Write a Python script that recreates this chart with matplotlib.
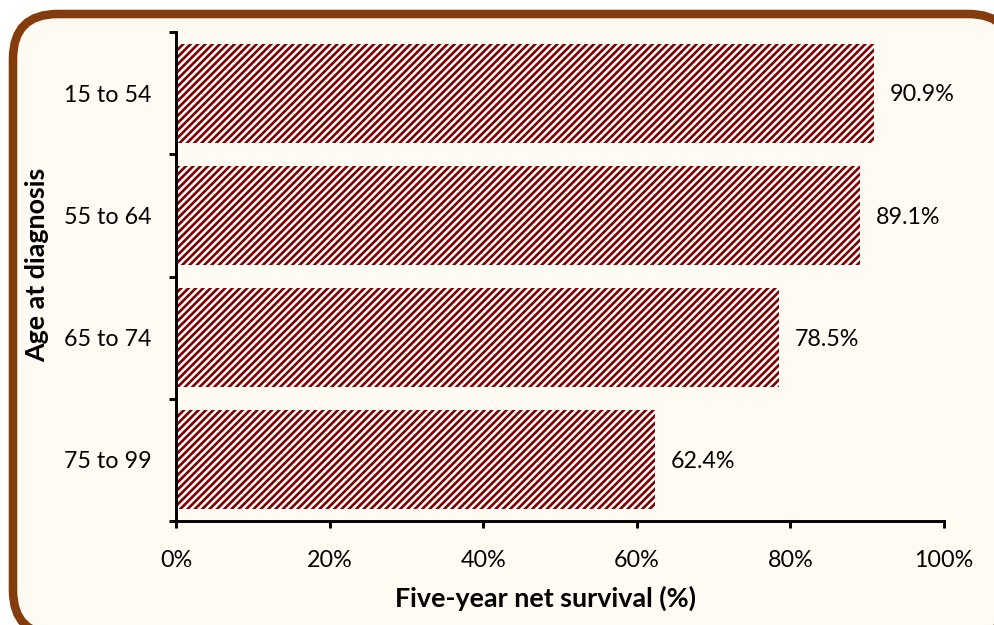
import matplotlib
matplotlib.use('Agg')
import matplotlib.pyplot as plt
from matplotlib.patches import FancyBboxPatch
from matplotlib.ticker import FixedLocator, PercentFormatter

ages = ["15 to 54", "55 to 64", "65 to 74", "75 to 99"]
survival = [90.9, 89.1, 78.5, 62.4]
x_ticks = [0, 20, 40, 60, 80, 100]

W, H, DPI = 994, 625, 88
plt.rcParams['font.family'] = ['Lato', 'DejaVu Sans']
plt.rcParams['hatch.linewidth'] = 2.2

bg = "#FFFBF2"
brown = "#843C0C"
dark_red = "#7F0000"
fs = 19
fs_title = 22

fig = plt.figure(figsize=(W / DPI, H / DPI), dpi=DPI)
fig.patch.set_facecolor("white")

# rounded frame round the whole chart (runs off the right/bottom edge)
frame = FancyBboxPatch((13 / W, -10 / H), (W + 6) / W, (H - 4) / H,
                       boxstyle="round,pad=0,rounding_size=0.045",
                       transform=fig.transFigure, facecolor=bg,
                       edgecolor=brown, linewidth=7, zorder=-5,
                       mutation_aspect=W / H)
fig.patches.append(frame)

ax = fig.add_axes([176 / W, 1 - 521 / H, (944 - 176) / W, (521 - 32) / H])
ax.set_facecolor("none")
ax.set_zorder(2)

ypos = list(range(len(ages)))
ax.barh(ypos, survival, height=0.81, color="white", edgecolor=dark_red,
        linewidth=0, hatch="////", zorder=2)

for y, v in zip(ypos, survival):
    ax.annotate(f"{v:.1f}%", xy=(v, y), xytext=(13, -1.5), textcoords="offset points",
                va="center", ha="left", fontsize=fs)

ax.set_xlim(0, 100)
ax.set_ylim(len(ages) - 0.5, -0.5)
ax.xaxis.set_major_locator(FixedLocator(x_ticks))
ax.xaxis.set_major_formatter(PercentFormatter(decimals=0))
ax.set_yticks(ypos)
ax.set_yticklabels(ages)
ax.yaxis.set_minor_locator(FixedLocator([i - 0.5 for i in range(len(ages) + 1)]))

ax.tick_params(axis="y", which="major", length=0, pad=20, labelsize=fs)
ax.tick_params(axis="y", which="minor", length=6, width=2.4, direction="out")
ax.tick_params(axis="x", which="major", length=6, width=2.4, direction="out",
               pad=18, labelsize=fs)

for side in ["top", "right"]:
    ax.spines[side].set_visible(False)
for side in ["left", "bottom"]:
    ax.spines[side].set_linewidth(2.4)

ax.set_xlabel("Five-year net survival (%)", fontsize=fs_title, fontweight="bold")
ax.set_ylabel("Age at diagnosis", fontsize=fs_title, fontweight="bold")
ax.xaxis.set_label_coords(0.4805, -0.133)
ax.yaxis.set_label_coords(-0.165, 0.5235)

fig.savefig("out.png", dpi=DPI, facecolor=fig.get_facecolor())
